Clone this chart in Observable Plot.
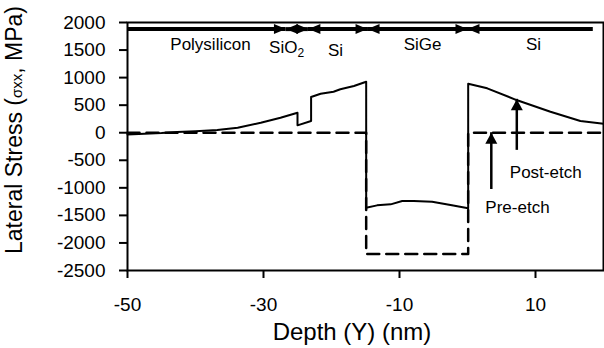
<!DOCTYPE html>
<html>
<head>
<meta charset="utf-8">
<script src="https://cdn.jsdelivr.net/npm/d3@7"></script>
<script src="https://cdn.jsdelivr.net/npm/@observablehq/plot@0.6"></script>
<style>
  html, body { margin: 0; padding: 0; background: #fff; }
  #chart { width: 604px; height: 348px; }
</style>
</head>
<body>
<div id="chart"></div>
<script>
// Post-etch lateral stress (solid)
const depthPost  = [-50, -45, -42.7, -40, -36.8, -33.8, -30.4, -27.5, -25.0, -25.0, -23.0, -23.0, -21.6, -19.7, -18.7, -16.7, -14.9, -14.9, -13.3, -11.3, -9.6, -7.9, -5.2, -2.5, 0.1, 0.1, 2.9, 7.3, 12.2, 16.6, 20];
const stressPost = [-30, -5, 13, 28, 49, 91, 182, 272, 363, 134, 212, 648, 708, 744, 788, 848, 926, -1361, -1318, -1300, -1240, -1240, -1252, -1312, -1372, 889, 806, 588, 381, 212, 163];

// Pre-etch lateral stress (dashed)
const depthPre  = [-50, -14.9, -14.9, 0.1, 0.1, 20];
const stressPre = [0, 0, -2200, -2200, 0, 0];

// Layer stack shown along the top
const layerNames  = ["Polysilicon", "SiO2", "Si", "SiGe", "Si"];
const layerStart  = [-50, -26.7, -23.4, -14.7, 0];
const layerEnd    = [-26.7, -23.4, -14.7, 0, 18.5];
const layerLabelX = [-37.8, -26.6, -19.4, -6.6, 9.7];
const layerLabelY = [1500, 1446, 1400, 1492, 1492];
const layerBarY   = 1880;

// Annotation arrows
const annotNames  = ["Pre-etch", "Post-etch"];
const arrowX      = [3.5, 7.25];
const arrowFrom   = [-1030, -320];
const arrowTo     = [0, 606];
const annotLabelX = [7.35, 11.5];
const annotLabelY = [-1452, -817];

// Axis ticks
const xTicks = [-50, -30, -10, 10];
const yTicks = [-2500, -2000, -1500, -1000, -500, 0, 500, 1000, 1500, 2000];

const post = depthPost.map((d, i) => ({depth: d, stress: stressPost[i]}));
const pre = depthPre.map((d, i) => ({depth: d, stress: stressPre[i]}));
const layers = layerNames.map((n, i) => ({name: n, start: layerStart[i], end: layerEnd[i], lx: layerLabelX[i], ly: layerLabelY[i]}));
const boundaries = layerEnd.slice(0, -1).map(b => ({b}));
const annots = annotNames.map((n, i) => ({name: n, x: arrowX[i], from: arrowFrom[i], to: arrowTo[i], lx: annotLabelX[i], ly: annotLabelY[i]}));

// Custom filled arrowhead symbols (tip at the anchor point)
const headRight = {draw(ctx) { ctx.moveTo(0, 0); ctx.lineTo(-12, -5); ctx.lineTo(-12, 5); ctx.closePath(); }};
const headLeft  = {draw(ctx) { ctx.moveTo(0, 0); ctx.lineTo(12, -5); ctx.lineTo(12, 5); ctx.closePath(); }};
const headUpSmall = {draw(ctx) { ctx.moveTo(0, 0); ctx.lineTo(-6, 11); ctx.lineTo(6, 11); ctx.closePath(); }};

const fmt = d => `${d}`;

const svg = Plot.plot({
  width: 604,
  height: 348,
  marginLeft: 127,
  marginRight: 1,
  marginTop: 22,
  marginBottom: 78,
  style: {fontFamily: "'Liberation Sans', Arial, sans-serif", fontSize: "19px", background: "#fff", color: "#000"},
  x: {domain: [-50, 20]},
  y: {domain: [-2500, 2000]},
  marks: [
    Plot.axisY({ticks: yTicks, tickFormat: fmt, tickSize: 8, tickPadding: 14, strokeWidth: 2, label: null, fontSize: 19}),
    Plot.axisX({ticks: xTicks, tickFormat: fmt, tickSize: 8, tickPadding: 19, strokeWidth: 2, label: null, fontSize: 19}),
    Plot.line(pre, {x: "depth", y: "stress", stroke: "#000", strokeWidth: 2.5, strokeDasharray: "12,7"}),
    Plot.line(post, {x: "depth", y: "stress", stroke: "#000", strokeWidth: 2}),
    Plot.ruleY(layers, {y: layerBarY, x1: "start", x2: "end", stroke: "#000", strokeWidth: 4}),
    Plot.dot(boundaries, {x: "b", y: layerBarY, symbol: headRight, fill: "#000", stroke: "none"}),
    Plot.dot(boundaries, {x: "b", y: layerBarY, symbol: headLeft, fill: "#000", stroke: "none"}),
    Plot.text(layers, {x: "lx", y: "ly", text: "name", textAnchor: "middle", lineAnchor: "bottom", fontSize: 17, fill: "#000"}),
    Plot.ruleX(annots, {x: "x", y1: "from", y2: "to", stroke: "#000", strokeWidth: 2.5}),
    Plot.dot(annots, {x: "x", y: "to", symbol: headUpSmall, fill: "#000", stroke: "none"}),
    Plot.text(annots, {x: "lx", y: "ly", text: "name", textAnchor: "middle", lineAnchor: "bottom", fontSize: 17, fill: "#000"}),
    Plot.frame({stroke: "#000", strokeWidth: 2})
  ]
});

const s = d3.select(svg);
// subscript for SiO2
s.selectAll("text").filter(function() { return this.textContent === "SiO2"; }).each(function() {
  const t = d3.select(this);
  t.text("SiO");
  t.append("tspan").attr("font-size", 12).attr("dy", 4).text("2");
});

// Axis titles
s.append("text")
  .attr("x", 352).attr("y", 340)
  .attr("text-anchor", "middle")
  .attr("font-size", 24).attr("fill", "#000")
  .text("Depth (Y) (nm)");

const yt = s.append("text")
  .attr("transform", "translate(22,130) rotate(-90)")
  .attr("text-anchor", "middle")
  .attr("font-size", 23).attr("fill", "#000");
yt.append("tspan").text("Lateral Stress (");
yt.append("tspan").attr("font-size", 15).text("σxx");
yt.append("tspan").text(", MPa)");

document.getElementById("chart").appendChild(svg);
</script>
</body>
</html>
